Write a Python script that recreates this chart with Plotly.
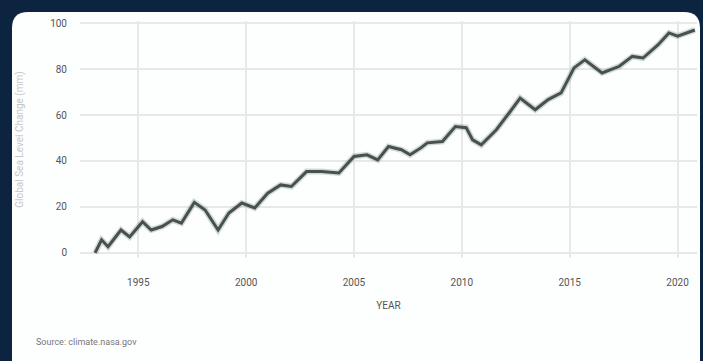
import plotly.graph_objects as go

years = [1993.0, 1993.3, 1993.6, 1994.2, 1994.6, 1995.2, 1995.6, 1996.1, 1996.6, 1997.0,
         1997.6, 1998.1, 1998.7, 1999.2, 1999.8, 2000.4, 2001.0, 2001.6, 2002.1, 2002.8,
         2003.5, 2004.3, 2005.0, 2005.6, 2006.1, 2006.6, 2007.2, 2007.6, 2008.1, 2008.4,
         2009.1, 2009.7, 2010.2, 2010.5, 2010.9, 2011.6, 2012.2, 2012.7, 2013.4, 2014.0,
         2014.6, 2015.2, 2015.7, 2016.5, 2017.3, 2017.9, 2018.4, 2019.1, 2019.6, 2020.0,
         2020.8]
sea_level_mm = [0.0, 5.7, 2.7, 10.0, 7.0, 13.6, 10.0, 11.5, 14.4, 13.0,
                22.0, 18.7, 10.0, 17.4, 21.7, 19.6, 26.0, 29.6, 28.9, 35.4,
                35.4, 34.8, 42.0, 42.7, 40.5, 46.3, 44.9, 42.7, 45.7, 47.9,
                48.5, 55.0, 54.5, 49.2, 47.0, 53.6, 61.0, 67.4, 62.3, 66.7,
                69.6, 80.5, 84.0, 78.3, 81.2, 85.5, 84.8, 90.6, 95.7, 94.3,
                97.0]
x_ticks = [1995, 2000, 2005, 2010, 2015, 2020]
y_ticks = [0, 20, 40, 60, 80, 100]

W, H = 703, 361
NAVY = "#0c2440"
L, R, T, B = 80, 6, 21, 103
PW, PH = W - L - R, H - T - B


def px(x):
    return (x - L) / PW


def py(y):
    return (H - B - y) / PH


fig = go.Figure()
fig.add_trace(go.Scatter(x=years, y=sea_level_mm, mode="lines",
                         line=dict(color="rgba(90,105,102,0.25)", width=6),
                         hoverinfo="skip", showlegend=False))
fig.add_trace(go.Scatter(x=years, y=sea_level_mm, mode="lines",
                         line=dict(color="#46524f", width=3),
                         showlegend=False))

# rounded white card
x0, x1 = px(12), px(700)
y1, y0 = py(12), py(380)
rx, ry = 16 / PW, 16 / PH
path = (f"M {x0+rx},{y1} L {x1-rx},{y1} Q {x1},{y1} {x1},{y1-ry} "
        f"L {x1},{y0+ry} Q {x1},{y0} {x1-rx},{y0} L {x0+rx},{y0} "
        f"Q {x0},{y0} {x0},{y0+ry} L {x0},{y1-ry} Q {x0},{y1} {x0+rx},{y1} Z")

fig.update_layout(
    width=W, height=H,
    margin=dict(l=L, r=R, t=T, b=B),
    paper_bgcolor=NAVY,
    plot_bgcolor="rgba(0,0,0,0)",
    font=dict(family="Roboto, Arial, sans-serif", color="#555"),
    shapes=[dict(type="path", path=path, xref="paper", yref="paper",
                 fillcolor="#fdfefe", line=dict(width=0), layer="below")],
    xaxis=dict(range=[1992.3, 2020.9], tickvals=x_ticks, ticktext=[str(t) for t in x_ticks],
               showgrid=True, gridcolor="#e8e8e8", gridwidth=1.5, zeroline=False,
               ticks="outside", ticklen=15, tickcolor="rgba(0,0,0,0)",
               tickfont=dict(size=10, color="#555"),
               title=dict(text="YEAR", font=dict(size=10, color="#555"), standoff=14)),
    yaxis=dict(range=[-2.2, 100.9], tickvals=y_ticks, ticktext=[str(t) for t in y_ticks],
               showgrid=True, gridcolor="#e8e8e8", gridwidth=1.5, zeroline=False,
               ticks="outside", ticklen=10, tickcolor="rgba(0,0,0,0)",
               tickfont=dict(size=10, color="#555"),
               title=dict(text="Global Sea Level Change (mm)", font=dict(size=10, color="#c4c8cc"),
                          standoff=24)),
    annotations=[dict(text="Source: climate.nasa.gov", xref="paper", yref="paper",
                      x=px(34), y=py(342), xanchor="left", yanchor="middle",
                      showarrow=False, font=dict(size=9, color="#777"))],
)

fig.write_html("out.html", config={"displayModeBar": False},
               post_script="document.body.style.margin='0';document.body.style.background='%s';" % NAVY)
